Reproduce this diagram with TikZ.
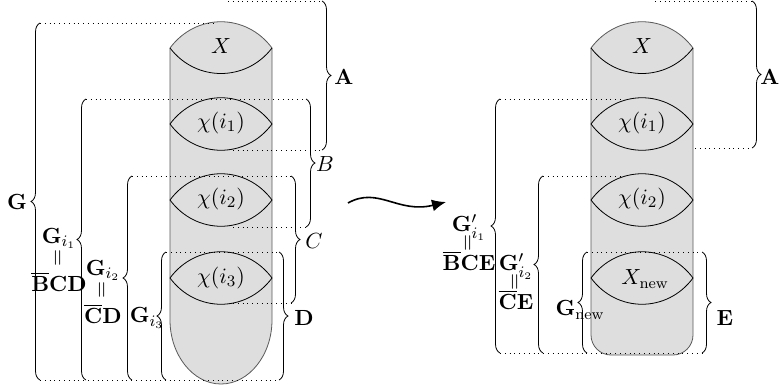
\documentclass[tikz,border=0pt]{standalone}
\usepackage{amsmath}
\usepackage{amssymb}
\usepackage{graphicx}
\usetikzlibrary{calc,decorations.pathreplacing,arrows.meta}

\begin{document}
\begin{tikzpicture}[x=0.5pt,y=-0.5pt,font=\fontsize{11}{13}\selectfont,
    guide/.style={dotted},
    brc/.style={decorate,decoration={brace,amplitude=4.5pt}},
    tube/.style={fill=black!13,draw=black!65}]
    \useasboundingbox (0,0) rectangle (779,391);

    % ---------------- left picture ----------------
    % Tube with round top and round bottom
    \draw[tube] (170,48) .. controls (196,13) and (246,13) .. (272,48) -- (272,320)
        .. controls (272,355) and (249,384) .. (221,384)
        .. controls (193,384) and (170,355) .. (170,320) -- cycle;
    % Lower curve of the top cap
    \draw (170,48) .. controls (196,82) and (246,82) .. (272,48);
    % Lenses
    \foreach \c in {124,200,278} {
        \draw (170,\c) .. controls (196,\c-35) and (246,\c-35) .. (272,\c);
        \draw (170,\c) .. controls (196,\c+35) and (246,\c+35) .. (272,\c);
    }
    \node (X) at (221,46) {$X$};
    \node (chi1) at (221,123) {$\chi(i_1)$};
    \node (chi2) at (221,199) {$\chi(i_2)$};
    \node (chi3) at (221,278) {$\chi(i_3)$};

    % Dotted guide lines
    \draw[guide] (228,1) -- (322,1);
    \draw[guide] (40,23) -- (215,23);
    \draw[guide] (86,99) -- (306,99);
    \draw[guide] (233,150) -- (322,150);
    \draw[guide] (132,176) -- (291,176);
    \draw[guide] (233,227) -- (306,227);
    \draw[guide] (166,252) -- (279,252);
    \draw[guide] (233,303) -- (291,303);
    \draw[guide] (40,380) -- (279,380);

    % Braces on the right
    \draw[brc] (322,1) -- (322,150);   % A
    \draw[brc] (306,99) -- (306,227);  % B
    \draw[brc] (291,176) -- (291,303); % C
    \draw[brc] (279,252) -- (279,380); % D
    % Braces on the left
    \draw[brc] (40,380) -- (40,23);    % G
    \draw[brc] (86,380) -- (86,99);    % G_{i_1}
    \draw[brc] (132,380) -- (132,176); % G_{i_2}
    \draw[brc] (166,380) -- (166,252); % G_{i_3}

    % Labels
    \node (lA) at (344,77) {$\mathbf{A}$};
    \node (lB) at (325,164) {$B$};
    \node (lC) at (314,241) {$C$};
    \node (lD) at (304,318) {$\mathbf{D}$};
    \node (lG) at (17,202) {$\mathbf{G}$};
    \node[align=center] (lGi1) at (59,260) {$\mathbf{G}_{i_1}$\\[-1.5pt]\rotatebox{90}{$=$}\\[-0.5pt]$\overline{\mathbf{B}}\mathbf{CD}$};
    \node[align=center] (lGi2) at (103,292) {$\mathbf{G}_{i_2}$\\[-1.5pt]\rotatebox{90}{$=$}\\[-0.5pt]$\overline{\mathbf{C}}\mathbf{D}$};
    \node (lGi3) at (147,318) {$\mathbf{G}_{i_3}$};

    % ---------------- arrow ----------------
    \coordinate (arrS) at (348,203);
    \coordinate (arrE) at (446,202);
    \draw[line width=0.8pt,-{Latex[length=7pt,width=6pt]}] (arrS) .. controls (378,186) and (398,214) .. (arrE);

    % ---------------- right picture ----------------
    % Tube with round top and rounded rectangular bottom
    \draw[tube] (591,48) .. controls (617,13) and (667,13) .. (693,48) -- (693,335)
        .. controls (693,346) and (684,355) .. (673,355) -- (611,355)
        .. controls (600,355) and (591,346) .. (591,335) -- cycle;
    \draw (591,48) .. controls (617,82) and (667,82) .. (693,48);
    \foreach \c in {124,200,278} {
        \draw (591,\c) .. controls (617,\c-35) and (667,\c-35) .. (693,\c);
        \draw (591,\c) .. controls (617,\c+35) and (667,\c+35) .. (693,\c);
    }
    \node (Xr) at (642,46) {$X$};
    \node (chi1r) at (642,123) {$\chi(i_1)$};
    \node (chi2r) at (642,199) {$\chi(i_2)$};
    \node (Xnew) at (645,279) {$X_{\text{new}}$};

    % Dotted guide lines
    \draw[guide] (655,1) -- (752,1);
    \draw[guide] (695,148) -- (752,148);
    \draw[guide] (500,99) -- (622,99);
    \draw[guide] (543,176) -- (622,176);
    \draw[guide] (587,252) -- (702,252);
    \draw[guide] (500,353) -- (702,353);

    % Braces
    \draw[brc] (752,1) -- (752,148);   % A
    \draw[brc] (702,252) -- (702,353); % E
    \draw[brc] (500,353) -- (500,99);  % G'_{i_1}
    \draw[brc] (543,353) -- (543,176); % G'_{i_2}
    \draw[brc] (587,353) -- (587,252); % G_new

    % Labels
    \node (lAr) at (770,77) {$\mathbf{A}$};
    \node (lE) at (725,318) {$\mathbf{E}$};
    \node[align=center] (lGpi1) at (469,243) {$\mathbf{G}'_{i_1}$\\[-3pt]\rotatebox{90}{$=$}\\[-3.5pt]$\overline{\mathbf{B}}\mathbf{CE}$};
    \node[align=center] (lGpi2) at (516,282) {$\mathbf{G}'_{i_2}$\\[-3pt]\rotatebox{90}{$=$}\\[-3.5pt]$\overline{\mathbf{C}}\mathbf{E}$};
    \node (lGnew) at (580,310) {$\mathbf{G}_{\text{new}}$};
\end{tikzpicture}
\end{document}
